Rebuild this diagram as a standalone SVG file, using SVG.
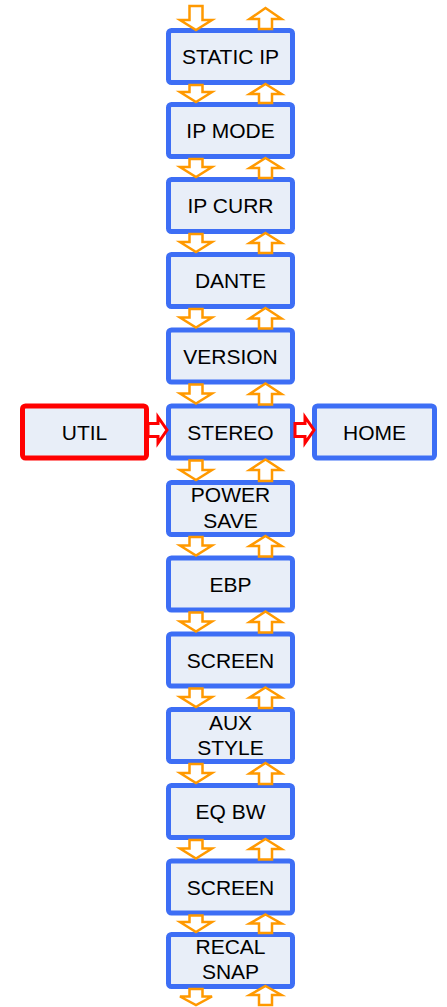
<svg xmlns="http://www.w3.org/2000/svg" width="447" height="1007" viewBox="0 0 447 1007">
<style>
.box{fill:#e8eef8;stroke:#3d6ef5;stroke-width:5}
.red{fill:#e8eef8;stroke:#ff0000;stroke-width:5}
.t{font-family:"Liberation Sans",Arial,sans-serif;font-size:21px;fill:#000;text-anchor:middle}
.oa{fill:#ffffff;stroke:#ff9900;stroke-width:2.5;stroke-linejoin:miter}
.ra{fill:#ffffff;stroke:#ff0000;stroke-width:3;stroke-linejoin:miter}
</style>
<rect width="447" height="1007" fill="#ffffff"/>
<g id="node-static-ip"><rect class="box" x="168.5" y="30.5" width="124" height="52" rx="3"/><text class="t" x="230.5" y="64">STATIC IP</text></g>
<g id="node-ip-mode"><rect class="box" x="168.5" y="104.5" width="124" height="52" rx="3"/><text class="t" x="230.5" y="138">IP MODE</text></g>
<g id="node-ip-curr"><rect class="box" x="168.5" y="179.5" width="124" height="52" rx="3"/><text class="t" x="230.5" y="213">IP CURR</text></g>
<g id="node-dante"><rect class="box" x="168.5" y="254.5" width="124" height="52" rx="3"/><text class="t" x="230.5" y="288">DANTE</text></g>
<g id="node-version"><rect class="box" x="168.5" y="330" width="124" height="52" rx="3"/><text class="t" x="230.5" y="363.5">VERSION</text></g>
<g id="node-stereo"><rect class="box" x="168.5" y="406" width="124" height="52" rx="3"/><text class="t" x="230.5" y="439.5">STEREO</text></g>
<g id="node-util"><rect class="red" x="22.5" y="406" width="124" height="52" rx="3"/><text class="t" x="84.5" y="439.5">UTIL</text></g>
<g id="node-home"><rect class="box" x="314.5" y="406" width="120" height="52" rx="3"/><text class="t" x="374.5" y="439.5">HOME</text></g>
<g id="node-power-save"><rect class="box" x="168.5" y="482.5" width="124" height="52" rx="3"/><text class="t" x="230.5" y="502">POWER</text><text class="t" x="230.5" y="527.5">SAVE</text></g>
<g id="node-ebp"><rect class="box" x="168.5" y="558" width="124" height="52" rx="3"/><text class="t" x="230.5" y="591.5">EBP</text></g>
<g id="node-screen-1"><rect class="box" x="168.5" y="634" width="124" height="52" rx="3"/><text class="t" x="230.5" y="667.5">SCREEN</text></g>
<g id="node-aux-style"><rect class="box" x="168.5" y="709.5" width="124" height="52" rx="3"/><text class="t" x="230.5" y="730">AUX</text><text class="t" x="230.5" y="755">STYLE</text></g>
<g id="node-eq-bw"><rect class="box" x="168.5" y="785.5" width="124" height="52" rx="3"/><text class="t" x="230.5" y="819">EQ BW</text></g>
<g id="node-screen-2"><rect class="box" x="168.5" y="861" width="124" height="52" rx="3"/><text class="t" x="230.5" y="894.5">SCREEN</text></g>
<g id="node-recal-snap"><rect class="box" x="168.5" y="934.5" width="124" height="52" rx="3"/><text class="t" x="230.5" y="953.5">RECAL</text><text class="t" x="230.5" y="978.5">SNAP</text></g>
<g id="connectors">
<path class="ra" d="M148 423.5 L158 423.5 L158 417 L167 430 L158 443 L158 436.5 L148 436.5 Z"/>
<path class="ra" d="M295 423.5 L305 423.5 L305 417 L314 430 L305 443 L305 436.5 L295 436.5 Z"/>
<path class="oa" d="M189.5 6 L202.5 6 L202.5 20 L212 20 L196 30 L180 20 L189.5 20 Z"/>
<path class="oa" d="M265.5 8 L281.5 19 L272 19 L272 29 L259 29 L259 19 L249.5 19 Z"/>
<path class="oa" d="M189.5 85 L202.5 85 L202.5 92 L212 92 L196 102 L180 92 L189.5 92 Z"/>
<path class="oa" d="M265.5 84 L281.5 94 L272 94 L272 103 L259 103 L259 94 L249.5 94 Z"/>
<path class="oa" d="M189.5 159 L202.5 159 L202.5 167 L212 167 L196 177 L180 167 L189.5 167 Z"/>
<path class="oa" d="M265.5 158 L281.5 168 L272 168 L272 178 L259 178 L259 168 L249.5 168 Z"/>
<path class="oa" d="M189.5 234 L202.5 234 L202.5 242 L212 242 L196 252 L180 242 L189.5 242 Z"/>
<path class="oa" d="M265.5 233 L281.5 243 L272 243 L272 253 L259 253 L259 243 L249.5 243 Z"/>
<path class="oa" d="M189.5 309 L202.5 309 L202.5 317.5 L212 317.5 L196 327.5 L180 317.5 L189.5 317.5 Z"/>
<path class="oa" d="M265.5 308 L281.5 318.5 L272 318.5 L272 328.5 L259 328.5 L259 318.5 L249.5 318.5 Z"/>
<path class="oa" d="M189.5 384.5 L202.5 384.5 L202.5 393.5 L212 393.5 L196 403.5 L180 393.5 L189.5 393.5 Z"/>
<path class="oa" d="M265.5 383.5 L281.5 394 L272 394 L272 404.5 L259 404.5 L259 394 L249.5 394 Z"/>
<path class="oa" d="M189.5 460.5 L202.5 460.5 L202.5 470 L212 470 L196 480 L180 470 L189.5 470 Z"/>
<path class="oa" d="M265.5 459.5 L281.5 470 L272 470 L272 481 L259 481 L259 470 L249.5 470 Z"/>
<path class="oa" d="M189.5 537 L202.5 537 L202.5 545.5 L212 545.5 L196 555.5 L180 545.5 L189.5 545.5 Z"/>
<path class="oa" d="M265.5 536 L281.5 546 L272 546 L272 556.5 L259 556.5 L259 546 L249.5 546 Z"/>
<path class="oa" d="M189.5 612.5 L202.5 612.5 L202.5 621.5 L212 621.5 L196 631.5 L180 621.5 L189.5 621.5 Z"/>
<path class="oa" d="M265.5 611.5 L281.5 622 L272 622 L272 632.5 L259 632.5 L259 622 L249.5 622 Z"/>
<path class="oa" d="M189.5 688.5 L202.5 688.5 L202.5 697 L212 697 L196 707 L180 697 L189.5 697 Z"/>
<path class="oa" d="M265.5 687.5 L281.5 697.5 L272 697.5 L272 708 L259 708 L259 697.5 L249.5 697.5 Z"/>
<path class="oa" d="M189.5 764 L202.5 764 L202.5 773 L212 773 L196 783 L180 773 L189.5 773 Z"/>
<path class="oa" d="M265.5 763 L281.5 773.5 L272 773.5 L272 784 L259 784 L259 773.5 L249.5 773.5 Z"/>
<path class="oa" d="M189.5 840 L202.5 840 L202.5 848.5 L212 848.5 L196 858.5 L180 848.5 L189.5 848.5 Z"/>
<path class="oa" d="M265.5 839 L281.5 849 L272 849 L272 859.5 L259 859.5 L259 849 L249.5 849 Z"/>
<path class="oa" d="M189.5 915.5 L202.5 915.5 L202.5 922 L212 922 L196 932 L180 922 L189.5 922 Z"/>
<path class="oa" d="M265.5 914.5 L281.5 923.5 L272 923.5 L272 933 L259 933 L259 923.5 L249.5 923.5 Z"/>
<path class="oa" d="M189.5 989 L202.5 989 L202.5 996.5 L212 996.5 L196 1005 L180 996.5 L189.5 996.5 Z"/>
<path class="oa" d="M265.5 986 L281.5 995 L272 995 L272 1005 L259 1005 L259 995 L249.5 995 Z"/>
</g>
</svg>
